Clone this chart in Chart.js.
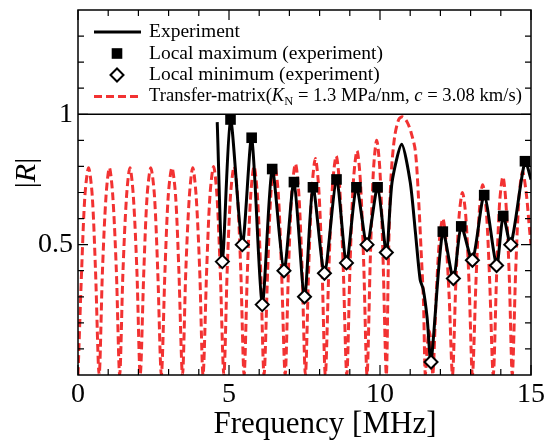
<!DOCTYPE html>
<html>
<head>
<meta charset="utf-8">
<script src="https://cdn.jsdelivr.net/npm/chart.js@4/dist/chart.umd.min.js"></script>
<style>
  html, body { margin: 0; padding: 0; background: #fff; }
  #wrap { width: 544px; height: 443px; }
</style>
</head>
<body>
<div id="wrap"><canvas id="chart"></canvas></div>
<script>
// Experiment (black line)
const expFreq = [4.61, 4.78, 5.05, 5.44, 5.75, 6.10, 6.43, 6.82, 7.15, 7.50, 7.78, 8.16, 8.56, 8.89, 9.22, 9.57, 9.92, 10.21,
  10.40, 10.72, 11.00, 11.17, 11.33, 11.43, 11.56, 11.69, 12.08, 12.43, 12.69, 13.06, 13.45, 13.86, 14.08, 14.33, 14.80, 15.00];
const expR = [0.97, 0.435, 0.98, 0.50, 0.91, 0.27, 0.79, 0.40, 0.74, 0.30, 0.72, 0.39, 0.75, 0.43, 0.72, 0.50, 0.72, 0.47,
  0.74, 0.885, 0.74, 0.55, 0.365, 0.33, 0.22, 0.05, 0.55, 0.37, 0.57, 0.44, 0.69, 0.42, 0.61, 0.50, 0.82, 0.75];

// Local maximum / minimum (experiment)
const maxFreq = [5.05, 5.75, 6.43, 7.15, 7.78, 8.56, 9.22, 9.92, 12.08, 12.69, 13.45, 14.08, 14.80];
const maxR = [0.98, 0.91, 0.79, 0.74, 0.72, 0.75, 0.72, 0.72, 0.55, 0.57, 0.69, 0.61, 0.82];
const minFreq = [4.78, 5.44, 6.10, 6.82, 7.50, 8.16, 8.89, 9.57, 10.21, 11.69, 12.43, 13.06, 13.86, 14.33];
const minR = [0.435, 0.50, 0.27, 0.40, 0.30, 0.39, 0.43, 0.50, 0.47, 0.05, 0.37, 0.44, 0.42, 0.50];

// Transfer-matrix (red dashed)
const tmFreq = [
  0, 0.12, 0.23, 0.35, 0.47, 0.58, 0.70,
  0.81, 0.93, 1.04, 1.15, 1.27, 1.38,
  1.49, 1.61, 1.72, 1.83, 1.95, 2.06,
  2.18, 2.29, 2.41, 2.53, 2.64, 2.76,
  2.88, 2.99, 3.11, 3.23, 3.34, 3.46,
  3.57, 3.69, 3.80, 3.91, 4.03, 4.14,
  4.26, 4.37, 4.49, 4.60, 4.71, 4.83,
  4.94, 5.05, 5.17, 5.28, 5.39, 5.50,
  5.61, 5.72, 5.83, 5.94, 6.05, 6.16,
  6.28, 6.39, 6.51, 6.63, 6.74, 6.86,
  6.97, 7.08, 7.20, 7.31, 7.42, 7.53,
  7.64, 7.75, 7.86, 7.97, 8.08, 8.19,
  8.31, 8.43, 8.55, 8.66, 8.78, 8.90,
  9.01, 9.12, 9.24, 9.35, 9.46, 9.57,
  9.68, 9.78, 9.89, 10.00, 10.10, 10.21,
  10.28, 10.36, 10.48, 10.62, 10.75, 10.90, 11.03, 11.17, 11.28, 11.36, 11.44, 11.50,
  11.58, 11.63, 11.68, 11.75,
  11.86, 11.97, 12.08, 12.18, 12.29, 12.40,
  12.51, 12.62, 12.73, 12.84, 12.95, 13.06,
  13.18, 13.29, 13.40, 13.52, 13.63, 13.75,
  13.86, 13.96, 14.07, 14.17, 14.28, 14.38,
  14.49, 14.60, 14.72, 14.84, 14.95, 15.00
];
const tmR = [
  0, 0.40, 0.69, 0.795, 0.69, 0.40, 0,
  0.40, 0.69, 0.795, 0.69, 0.40, 0,
  0.40, 0.69, 0.795, 0.69, 0.40, 0,
  0.40, 0.69, 0.795, 0.69, 0.40, 0,
  0.40, 0.69, 0.795, 0.69, 0.40, 0,
  0.40, 0.69, 0.795, 0.69, 0.40, 0,
  0.40, 0.69, 0.80, 0.69, 0.40, 0,
  0.40, 0.69, 0.80, 0.69, 0.40, 0,
  0.40, 0.69, 0.80, 0.69, 0.40, 0,
  0.40, 0.70, 0.805, 0.70, 0.40, 0,
  0.405, 0.70, 0.81, 0.70, 0.405, 0,
  0.415, 0.72, 0.83, 0.72, 0.415, 0,
  0.42, 0.73, 0.84, 0.73, 0.42, 0,
  0.43, 0.745, 0.86, 0.745, 0.43, 0,
  0.45, 0.78, 0.90, 0.78, 0.45, 0,
  0.45, 0.75, 0.91, 0.98, 0.99, 0.97, 0.93, 0.86, 0.67, 0.48, 0.28, 0,
  0.13, 0.17, 0.13, 0,
  0.30, 0.52, 0.60, 0.52, 0.30, 0,
  0.35, 0.61, 0.70, 0.61, 0.35, 0,
  0.365, 0.63, 0.73, 0.63, 0.365, 0,
  0.38, 0.66, 0.76, 0.66, 0.38, 0,
  0.39, 0.675, 0.78, 0.70, 0.56, 0.50
];

// axes
const xTickLabels = [0, 5, 10, 15];
const yTickLabels = [0.5, 1];
const xMinorTicks = [0, 1, 2, 3, 4, 5, 6, 7, 8, 9, 10, 11, 12, 13, 14, 15];
const yMinorTicks = [0.1, 0.2, 0.3, 0.4, 0.5, 0.6, 0.7, 0.8, 0.9, 1, 1.1, 1.2, 1.3];

const serif = '"Liberation Serif", "Times New Roman", serif';
const RED = '#f23232';

const pts = (xs, ys) => xs.map((x, i) => ({ x: x, y: ys[i] }));

// draw text made of pieces (italic, subscript...)
function drawRich(ctx, parts, x, y) {
  let cx = x;
  parts.forEach(p => {
    ctx.font = p.f;
    ctx.fillText(p.t, cx, y + (p.dy || 0));
    cx += ctx.measureText(p.t).width;
  });
  return cx;
}

const framePlugin = {
  id: 'frame',
  afterDraw(chart) {
    const { ctx, chartArea: a, scales } = chart;
    const xs = scales.x, ys = scales.y;
    ctx.save();
    ctx.strokeStyle = '#000';
    ctx.lineWidth = 1.5;
    ctx.setLineDash([]);
    ctx.strokeRect(a.left, a.top, a.right - a.left, a.bottom - a.top);

    // legend box bottom at |R| = 1
    const y1 = ys.getPixelForValue(1);
    ctx.beginPath();
    ctx.moveTo(a.left, y1);
    ctx.lineTo(a.right, y1);
    ctx.stroke();

    // inward ticks
    ctx.lineWidth = 1.2;
    ctx.beginPath();
    xMinorTicks.forEach(v => {
      const px = xs.getPixelForValue(v);
      const len = xTickLabels.includes(v) ? 10 : 6;
      ctx.moveTo(px, a.bottom); ctx.lineTo(px, a.bottom - len);
      ctx.moveTo(px, a.top); ctx.lineTo(px, a.top + len);
    });
    yMinorTicks.forEach(v => {
      const py = ys.getPixelForValue(v);
      const len = yTickLabels.includes(v) ? 10 : 6;
      ctx.moveTo(a.left, py); ctx.lineTo(a.left + len, py);
      ctx.moveTo(a.right, py); ctx.lineTo(a.right - len, py);
    });
    ctx.stroke();

    ctx.fillStyle = '#000';
    ctx.textBaseline = 'middle';

    // x title
    ctx.textAlign = 'center';
    ctx.font = '31px ' + serif;
    ctx.fillText('Frequency [MHz]', 325, 425);
    ctx.textAlign = 'left';

    // y title |R|
    ctx.save();
    ctx.translate(27, 173);
    ctx.rotate(-Math.PI / 2);
    const yt = [
      { t: '|', f: '30px ' + serif },
      { t: 'R', f: 'italic 30px ' + serif },
      { t: '|', f: '30px ' + serif }
    ];
    let w = 0;
    yt.forEach(p => { ctx.font = p.f; w += ctx.measureText(p.t).width; });
    drawRich(ctx, yt, -w / 2, 0);
    ctx.restore();

    // legend
    const ds = chart.data.datasets;
    const sx = a.left + 16, ex = a.left + 63, cx = a.left + 39, tx = a.left + 71;
    const rows = [a.top + 22, a.top + 43.5, a.top + 65, a.top + 86.5];
    const fs = '19.5px ' + serif;
    const fs2 = '18.6px ' + serif, fi2 = 'italic 18.6px ' + serif;

    // Experiment
    const e = ds[2];
    ctx.strokeStyle = e.borderColor; ctx.lineWidth = e.borderWidth;
    ctx.beginPath(); ctx.moveTo(sx, rows[0]); ctx.lineTo(ex, rows[0]); ctx.stroke();
    // Local max (square)
    const m = ds[1];
    const hs = m.pointRadius * Math.SQRT1_2;
    ctx.fillStyle = m.backgroundColor;
    ctx.fillRect(cx - hs, rows[1] - hs, 2 * hs, 2 * hs);
    // Local min (diamond)
    const n = ds[0], r = n.pointRadius;
    ctx.beginPath();
    ctx.moveTo(cx - r, rows[2]); ctx.lineTo(cx, rows[2] - r);
    ctx.lineTo(cx + r, rows[2]); ctx.lineTo(cx, rows[2] + r); ctx.closePath();
    ctx.fillStyle = n.backgroundColor; ctx.fill();
    ctx.strokeStyle = n.borderColor; ctx.lineWidth = n.borderWidth; ctx.stroke();
    // Transfer matrix
    const t = ds[3];
    ctx.strokeStyle = t.borderColor; ctx.lineWidth = t.borderWidth;
    ctx.setLineDash(t.borderDash);
    ctx.beginPath(); ctx.moveTo(sx, rows[3]); ctx.lineTo(ex + 1, rows[3]); ctx.stroke();
    ctx.setLineDash([]);

    ctx.fillStyle = '#000';
    drawRich(ctx, [{ t: 'Experiment', f: fs }], tx, rows[0]);
    drawRich(ctx, [{ t: 'Local maximum (experiment)', f: fs }], tx, rows[1]);
    drawRich(ctx, [{ t: 'Local minimum (experiment)', f: fs }], tx, rows[2]);
    drawRich(ctx, [
      { t: 'Transfer-matrix(', f: fs2 },
      { t: 'K', f: fi2 },
      { t: 'N', f: '12.5px ' + serif, dy: 5 },
      { t: ' = 1.3 MPa/nm, ', f: fs2 },
      { t: 'c', f: fi2 },
      { t: ' = 3.08 km/s)', f: fs2 }
    ], tx, rows[3]);
    ctx.restore();
  }
};

new Chart(document.getElementById('chart'), {
  type: 'line',
  data: {
    datasets: [
      {
        label: 'Local minimum (experiment)',
        data: pts(minFreq, minR),
        showLine: false,
        pointStyle: 'rectRot',
        pointRadius: 6.5,
        backgroundColor: '#ffffff',
        borderColor: '#000000',
        borderWidth: 2,
        order: 0
      },
      {
        label: 'Local maximum (experiment)',
        data: pts(maxFreq, maxR),
        showLine: false,
        pointStyle: 'rect',
        pointRadius: 7.5,
        backgroundColor: '#000000',
        borderColor: '#000000',
        borderWidth: 0,
        order: 1
      },
      {
        label: 'Experiment',
        data: pts(expFreq, expR),
        borderColor: '#000000',
        borderWidth: 3,
        pointRadius: 0,
        tension: 0.25,
        fill: false,
        order: 2
      },
      {
        label: 'Transfer-matrix',
        data: pts(tmFreq, tmR),
        borderColor: RED,
        borderWidth: 3,
        borderDash: [8, 4],
        pointRadius: 0,
        tension: 0.3,
        fill: false,
        order: 3
      }
    ]
  },
  options: {
    responsive: true,
    maintainAspectRatio: false,
    animation: false,
    layout: { padding: { top: 10, right: 13, left: 0, bottom: 0 } },
    plugins: { legend: { display: false }, tooltip: { enabled: false } },
    scales: {
      x: {
        type: 'linear',
        min: 0,
        max: 15,
        grid: { display: false, drawTicks: false },
        border: { display: false },
        ticks: { color: '#000', font: { family: serif, size: 28 }, padding: 3, maxRotation: 0, autoSkip: false,
          callback: v => String(v) },
        afterBuildTicks: s => { s.ticks = xTickLabels.map(v => ({ value: v })); },
        afterFit: s => { s.height = 68; s.paddingLeft = 0; s.paddingRight = 0; }
      },
      y: {
        type: 'linear',
        min: 0,
        max: 1.4,
        grid: { display: false, drawTicks: false },
        border: { display: false },
        ticks: { color: '#000', font: { family: serif, size: 28 }, padding: 5, callback: v => String(v) },
        afterBuildTicks: s => { s.ticks = yTickLabels.map(v => ({ value: v })); },
        afterFit: s => { s.width = 78; s.paddingTop = 0; s.paddingBottom = 0; }
      }
    }
  },
  plugins: [framePlugin]
});
</script>
</body>
</html>
